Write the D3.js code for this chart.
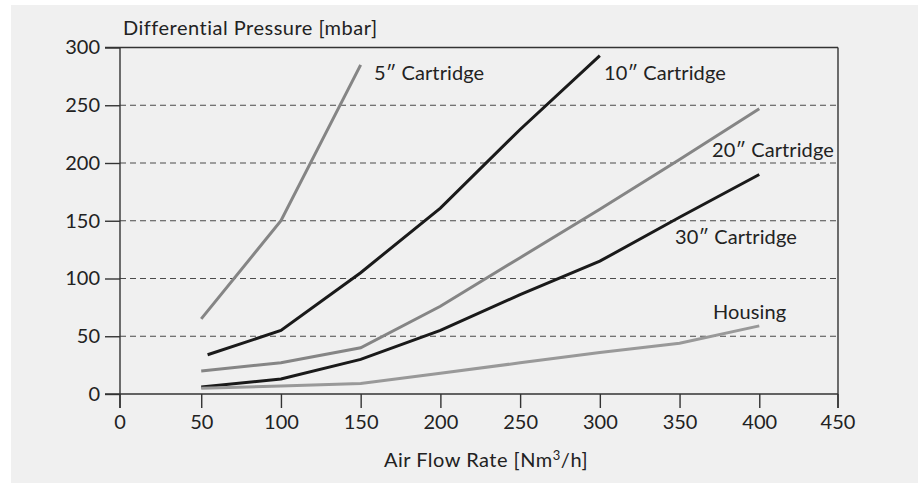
<!DOCTYPE html>
<head lang="en">
<meta charset="utf-8">
<title>Differential Pressure vs Air Flow Rate</title>
<style>
body { margin:0; background:#fff; }
* { font-family:"Lato","Open Sans",sans-serif; }
</style>
<script src="https://cdn.jsdelivr.net/npm/d3@7"></script>
</head>
<body>
<div id="chart"></div>
<script>
// values
var xTicks = [0, 50, 100, 150, 200, 250, 300, 350, 400, 450];
var yTicks = [0, 50, 100, 150, 200, 250, 300];
var cart5  = [[50, 65], [100, 150], [150, 285]];
var cart10 = [[54, 34], [100, 55], [150, 105], [200, 161], [250, 229], [300, 293]];
var cart20 = [[50, 20], [100, 27], [150, 40], [200, 76], [250, 118], [300, 160], [350, 203], [400, 247]];
var cart30 = [[50, 6], [100, 13], [150, 30], [200, 55], [250, 86], [300, 115], [350, 153], [400, 190]];
var housing = [[50, 5], [100, 7], [150, 9], [200, 18], [250, 27], [300, 36], [350, 44], [400, 59]];

var series = [
    { name: "5\u2033 Cartridge",  data: cart5,   color: "#858585", lx: 374, ly: 80 },
    { name: "10\u2033 Cartridge", data: cart10,  color: "#1a1a1a", lx: 604, ly: 80 },
    { name: "20\u2033 Cartridge", data: cart20,  color: "#858585", lx: 712, ly: 157 },
    { name: "30\u2033 Cartridge", data: cart30,  color: "#1a1a1a", lx: 675, ly: 244 },
    { name: "Housing",            data: housing, color: "#999999", lx: 713, ly: 319 }
];

var W = 918, H = 483;
var mLeft = 120, mRight = 838, mTop = 47.5, mBottom = 394;
var fs = "20px";

var svg = d3.select("#chart").append("svg")
    .attr("width", W)
    .attr("height", H);

svg.append("rect")
    .attr("x", 11).attr("y", 5)
    .attr("width", W - 11).attr("height", H - 5)
    .style("fill", "#f0f0f0");

var x = d3.scaleLinear().domain([0, 450]).range([121.5, 839]);
var y = d3.scaleLinear().domain([0, 300]).range([mBottom, mTop]);

// dashed gridlines
svg.selectAll("line.grid")
    .data(yTicks.filter(function(d) { return d > 0 && d < 300; }))
    .enter()
    .append("line")
        .attr("class", "grid")
        .attr("x1", mLeft).attr("x2", mRight)
        .attr("y1", function(d) { return y(d); })
        .attr("y2", function(d) { return y(d); })
        .style("stroke", "#4a4a4a")
        .style("stroke-width", "1.2px")
        .style("stroke-dasharray", "6,4");

// frame: top and right borders
svg.append("line")
    .attr("x1", mLeft - 15).attr("x2", mRight)
    .attr("y1", mTop).attr("y2", mTop)
    .style("stroke", "#333").style("stroke-width", "1.4px");
svg.append("line")
    .attr("x1", mRight).attr("x2", mRight)
    .attr("y1", mTop).attr("y2", mBottom + 14)
    .style("stroke", "#333").style("stroke-width", "1.4px");

// axes
var yAxis = svg.append("g")
    .attr("transform", "translate(" + mLeft + ",0)")
    .call(d3.axisLeft(y).tickValues(yTicks).tickSize(15).tickPadding(5));
var xAxis = svg.append("g")
    .attr("transform", "translate(0," + mBottom + ")")
    .call(d3.axisBottom(x).tickValues(xTicks).tickSize(14).tickPadding(7));

xAxis.select(".domain").attr("d", "M" + (mLeft - 15) + ",0H" + mRight);
yAxis.select(".domain").attr("d", "M0," + mTop + "V" + (mBottom + 14));
[xAxis, yAxis].forEach(function(g) {
    g.selectAll("path, line").style("stroke", "#333").style("stroke-width", "1.4px");
    g.selectAll("text").style("font-size", fs).style("fill", "#222");
});
// end ticks sit on the frame lines
xAxis.selectAll(".tick").filter(function(d) { return d === 0; }).attr("transform", "translate(" + mLeft + ",0)");
xAxis.selectAll(".tick").filter(function(d) { return d === 450; }).attr("transform", "translate(" + mRight + ",0)");

// series lines
var line = d3.line()
    .x(function(d) { return x(d[0]); })
    .y(function(d) { return y(d[1]); });

svg.selectAll("path.series")
    .data(series)
    .enter()
    .append("path")
        .attr("class", "series")
        .attr("d", function(d) { return line(d.data); })
        .style("fill", "none")
        .style("stroke", function(d) { return d.color; })
        .style("stroke-width", "3px");

svg.selectAll("text.lbl")
    .data(series)
    .enter()
    .append("text")
        .attr("class", "lbl")
        .attr("x", function(d) { return d.lx; })
        .attr("y", function(d) { return d.ly; })
        .text(function(d) { return d.name; })
        .style("font-size", fs)
        .style("letter-spacing", "0.1px")
        .style("fill", "#222");

// axis titles
svg.append("text")
    .attr("x", 123).attr("y", 35)
    .text("Differential Pressure [mbar]")
    .style("font-size", fs)
    .style("letter-spacing", "0.5px")
    .style("fill", "#222");

var xt = svg.append("text")
    .attr("x", 486).attr("y", 467)
    .attr("text-anchor", "middle")
    .style("font-size", fs)
    .style("letter-spacing", "0.5px")
    .style("fill", "#222");
xt.append("tspan").text("Air Flow Rate [Nm");
xt.append("tspan").text("3").attr("dy", -7).style("font-size", "13px");
xt.append("tspan").text("/h]").attr("dy", 7);
</script>
</body>
</html>
